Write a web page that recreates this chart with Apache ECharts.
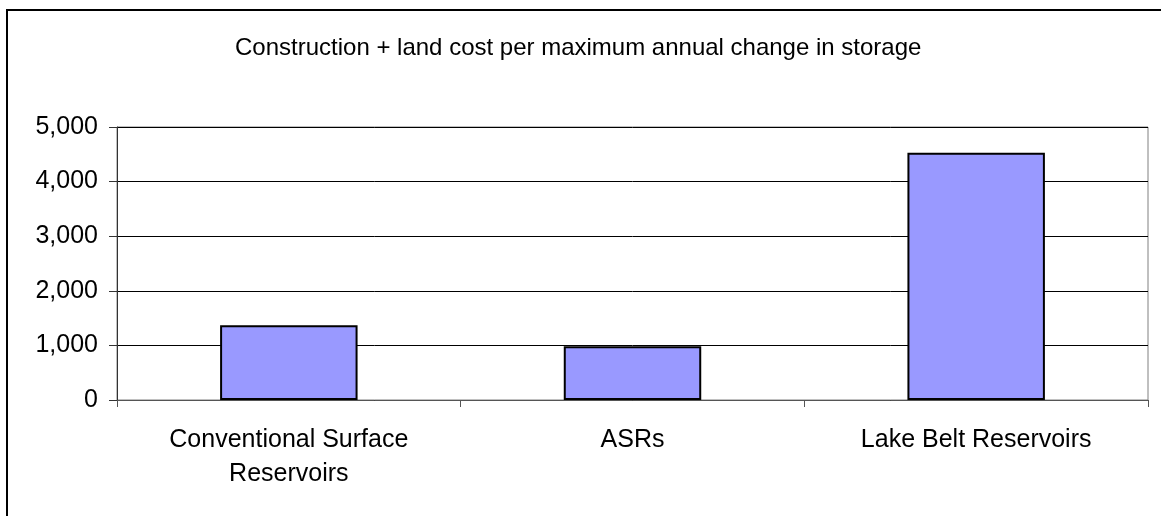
<!DOCTYPE html>
<html>
<head>
<meta charset="utf-8">
<title>Construction + land cost</title>
<script src="https://cdn.jsdelivr.net/npm/echarts@6/dist/echarts.min.js"></script>
<style>
  html, body { margin: 0; padding: 0; background: #fff; }
  #myChart { width: 1161px; height: 516px; }
</style>
</head>
<body>
<div id="myChart"></div>
<script>
// 分类
var categories = ['Conventional Surface\nReservoirs', 'ASRs', 'Lake Belt Reservoirs']
// 数值
var costs = [1370, 985, 4530]
// y轴刻度
var yTicks = [0, 1000, 2000, 3000, 4000, 5000]

var myChart = echarts.init(document.getElementById('myChart'))
var font = 'Liberation Sans, Arial, sans-serif'

myChart.setOption({
  animation: false,
  color: ['#9999FF'],
  title: {
    text: 'Construction + land cost per maximum annual change in storage',
    left: 230,
    top: 31,
    textStyle: {
      fontFamily: font,
      fontSize: 24,
      fontWeight: 'normal',
      color: '#000'
    }
  },
  // 外框
  graphic: [
    {
      type: 'rect',
      shape: { x: 7, y: 10, width: 1200, height: 600 },
      style: { fill: 'none', stroke: '#000', lineWidth: 2 },
      silent: true
    }
  ],
  grid: {
    left: 117,
    right: 13,
    top: 127,
    bottom: 116,
    show: true,
    borderColor: '#808080',
    borderWidth: 1,
    backgroundColor: '#fff'
  },
  xAxis: {
    type: 'category',
    data: categories,
    axisLine: { lineStyle: { color: '#555', width: 1 } },
    axisTick: { show: true, length: 7, lineStyle: { color: '#555' } },
    axisLabel: {
      fontFamily: font,
      fontSize: 25,
      color: '#000',
      lineHeight: 34,
      margin: 23,
      interval: 0
    }
  },
  yAxis: {
    type: 'value',
    min: yTicks[0],
    max: yTicks[yTicks.length - 1],
    interval: 1000,
    axisLine: { show: true, lineStyle: { color: '#333', width: 1 } },
    axisTick: { show: true, length: 8, lineStyle: { color: '#333' } },
    axisLabel: {
      fontFamily: font,
      fontSize: 25,
      color: '#000',
      margin: 19,
      formatter: function (v) { return v.toLocaleString('en-US') }
    },
    splitLine: { lineStyle: { color: '#000', width: 1 } }
  },
  series: [
    {
      name: 'cost',
      type: 'bar',
      data: costs,
      barWidth: '40%',
      itemStyle: { borderColor: '#000', borderWidth: 2 }
    }
  ]
})
</script>
</body>
</html>
